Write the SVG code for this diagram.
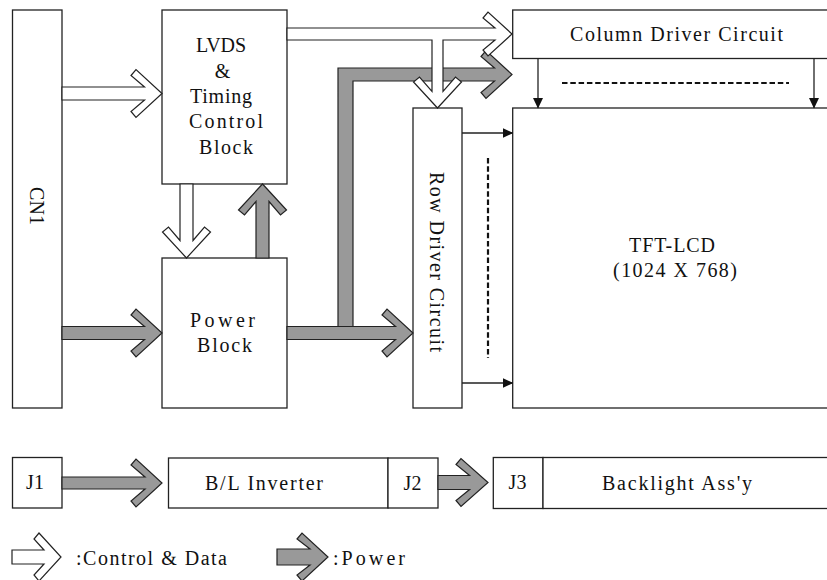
<svg xmlns="http://www.w3.org/2000/svg" width="827" height="580" viewBox="0 0 827 580">
<style>
.box{fill:#fff;stroke:#222;stroke-width:1.3}
.ctl{fill:#fff;stroke:#222;stroke-width:1.2;stroke-linejoin:miter}
.pwr{fill:#999;stroke:#222;stroke-width:1.2;stroke-linejoin:miter}
.thin{stroke:#222;stroke-width:1.3;fill:none}
.dash{stroke:#111;stroke-width:2.2;fill:none;stroke-dasharray:5.5 2.8}
text{font-family:"Liberation Serif","Times New Roman",serif;font-size:20px;fill:#111}
.c{text-anchor:middle}
</style>
<defs>
<marker id="ah" markerUnits="userSpaceOnUse" markerWidth="11" markerHeight="10" refX="10" refY="5" orient="auto">
<path d="M0,0 L10.5,5 L0,10 Z" fill="#111"/>
</marker>
</defs>
<rect width="827" height="580" fill="#fff"/>

<g id="CN1"><rect class="box" x="12.5" y="10" width="49.5" height="398"/>
<text class="c" transform="translate(30,206) rotate(90)" textLength="38">CN1</text></g>

<g id="LVDS"><rect class="box" x="162" y="10" width="125" height="174"/>
<text class="c" x="221" y="52" textLength="50">LVDS</text>
<text class="c" x="222.5" y="78">&amp;</text>
<text class="c" x="221" y="103" textLength="62">Timing</text>
<text class="c" x="226" y="128" textLength="74">Control</text>
<text class="c" x="226" y="154" textLength="54">Block</text></g>

<g id="PowerBlock"><rect class="box" x="162" y="258" width="125" height="150"/>
<text class="c" x="222.5" y="327" textLength="65">Power</text>
<text class="c" x="224.5" y="352" textLength="55">Block</text></g>

<g id="ColumnDriver"><rect class="box" x="512.7" y="10" width="330" height="48.5"/>
<text class="c" x="676.5" y="41" textLength="213">Column Driver Circuit</text></g>

<g id="RowDriver"><rect class="box" x="413" y="108" width="49" height="300"/>
<text class="c" transform="translate(430,262) rotate(90)" textLength="180">Row Driver Circuit</text></g>

<g id="TFTLCD"><rect class="box" x="512.7" y="108" width="330" height="300"/>
<text class="c" x="672" y="252" font-size="21" textLength="86">TFT-LCD</text>
<text class="c" x="675" y="277" font-size="21" textLength="124">(1024 X 768)</text></g>

<g id="J1"><rect class="box" x="12.5" y="457.5" width="49.5" height="50.5"/>
<text class="c" x="35" y="489">J1</text></g>

<g id="BLInverter"><rect class="box" x="168.5" y="458" width="219.5" height="50"/>
<text class="c" x="264" y="490" textLength="118">B/L Inverter</text></g>

<g id="J2"><rect class="box" x="388" y="458" width="50" height="50"/>
<text class="c" x="412.5" y="490">J2</text></g>

<g id="J3"><rect class="box" x="493.3" y="457.5" width="49.7" height="51"/>
<text class="c" x="517.5" y="489">J3</text></g>

<g id="Backlight"><rect class="box" x="543" y="457.5" width="300" height="51"/>
<text class="c" x="677" y="490" textLength="150">Backlight Ass'y</text></g>

<g id="connectors">
<polygon class="ctl" points="62,87 144.5,87 131,75.5 136,69.5 162,93.5 136,117.5 131,111.5 144.5,100 62,100"/>
<polygon class="pwr" points="62,326.5 144.5,326.5 131,315 136,309 162,333 136,357 131,351 144.5,339.5 62,339.5"/>
<polygon class="ctl" points="180,184 180,240.5 168.5,227 162.5,232 186.5,258 210.5,232 204.5,227 193,240.5 193,184"/>
<polygon class="pwr" points="256,258 256,201.5 244.5,215 238.5,210 262.5,184 286.5,210 280.5,215 269,201.5 269,258"/>
<polygon class="pwr" points="338,326.5 338,68 494.5,68 481,56.5 486,50.5 512,74.5 486,98.5 481,92.5 494.5,81 353,81 353,326.5"/>
<polygon class="pwr" points="287,326.5 395.5,326.5 382,315 387,309 413,333 387,357 382,351 395.5,339.5 287,339.5"/>
<polygon class="ctl" points="287,28 495,28 483,18 488,12 512,34 488,56 483,50 495,40 443,40 443,91.5 455.5,77 461.5,82 437.5,108 413.5,82 419.5,77 432,91.5 432,40 287,40"/>
<line class="thin" x1="538" y1="58.5" x2="538" y2="108" marker-end="url(#ah)"/>
<line class="thin" x1="814" y1="58.5" x2="814" y2="108" marker-end="url(#ah)"/>
<line class="thin" x1="462" y1="133" x2="512.7" y2="133" marker-end="url(#ah)"/>
<line class="thin" x1="462" y1="383" x2="512.7" y2="383" marker-end="url(#ah)"/>
<line class="dash" x1="562" y1="83" x2="789" y2="83"/>
<line class="dash" x1="488" y1="158" x2="488" y2="358"/>
<polygon class="pwr" points="62,477 145,477 131,465 136,459 162,483 136,507 131,501 145,489 62,489"/>
<polygon class="pwr" points="438,475.5 469.6,475.5 456,464.5 461,458.5 488,482.5 461,506.5 456,500.5 469.6,489.5 438,489.5"/>
</g>

<g id="legend">
<polygon class="ctl" points="12,550 44,550 34,539 39,533 61,557 39,581 34,575 44,564 12,564"/>
<text x="76" y="565" textLength="151">:Control &amp; Data</text>
<polygon class="pwr" points="277,549 310,549 297,539 302,533 328,557 302,581 297,575 310,565 277,565"/>
<text x="333" y="565" textLength="72">:Power</text>
</g>
</svg>
